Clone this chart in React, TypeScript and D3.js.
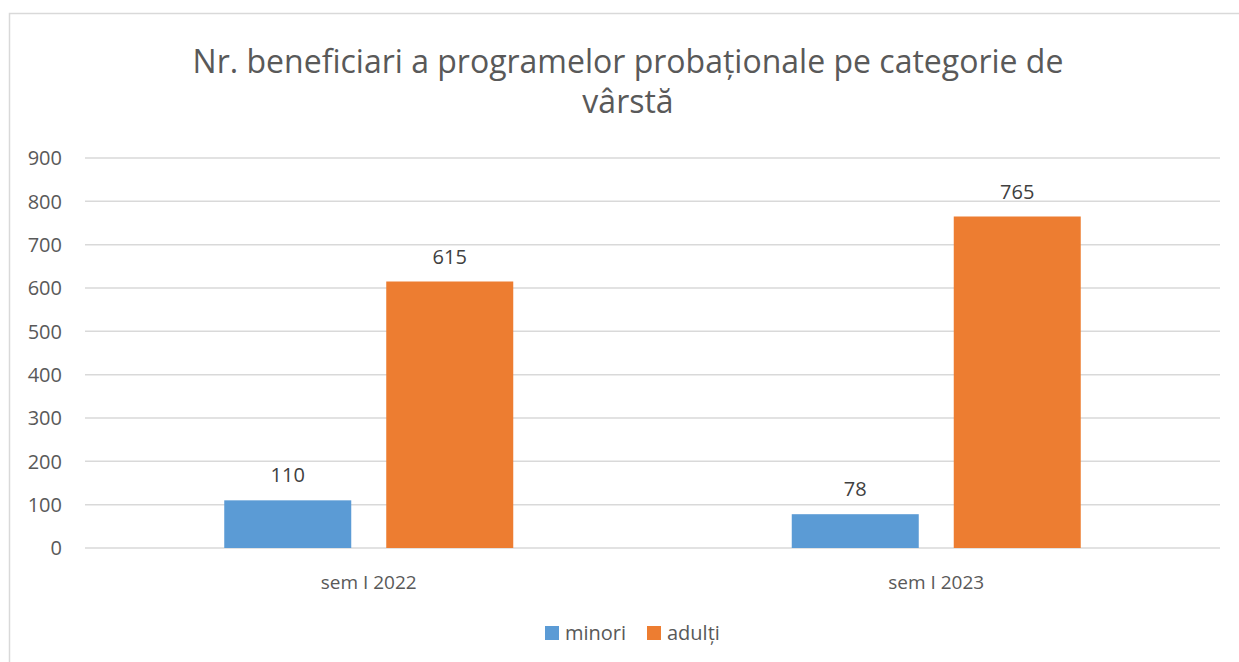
import { useEffect, useRef } from 'react'
import * as d3 from 'd3'

const categories = ['sem I 2022', 'sem I 2023']
const seriesNames = ['minori', 'adulți']
const minori = [110, 78]
const adulti = [615, 765]
const yTicks = [0, 100, 200, 300, 400, 500, 600, 700, 800, 900]
const titleLines = ['Nr. beneficiari a programelor probaționale pe categorie de', 'vârstă']

const colors = ['#5B9BD5', '#ED7D31']
const FONT = '"Open Sans", "Liberation Sans", sans-serif'

export default function App() {
  const ref = useRef<SVGSVGElement | null>(null)

  useEffect(() => {
    if (!ref.current) return
    document.body.style.margin = '0'
    const svg = d3.select(ref.current)
    svg.selectAll('*').remove()

    const width = 1239
    const height = 662
    const margin = { top: 158, right: 19, bottom: 114, left: 85 }

    svg.append('rect').attr('width', width).attr('height', height).attr('fill', '#fff')
    // chart frame
    svg.append('rect')
      .attr('x', 9.5).attr('y', 13.5)
      .attr('width', width + 20).attr('height', height + 20)
      .attr('fill', 'none').attr('stroke', '#D9D9D9').attr('stroke-width', 1.5)

    // title
    svg.append('text')
      .attr('x', 628).attr('y', 73)
      .attr('text-anchor', 'middle')
      .style('font-family', FONT).style('font-size', '32px').attr('fill', '#595959')
      .selectAll('tspan').data(titleLines).join('tspan')
      .attr('x', 628).attr('dy', (_, i) => (i === 0 ? 0 : 40))
      .text(d => d)

    const x0 = d3.scaleBand().domain(categories).range([margin.left, width - margin.right])
    const y = d3.scaleLinear().domain([0, 900]).range([height - margin.bottom, margin.top])

    const barW = 127
    const gap = 35
    const x1 = d3.scaleBand().domain(seriesNames)
      .range([-(barW + gap / 2), barW + gap / 2]).paddingInner(gap / (barW + gap))

    // grid
    svg.append('g').selectAll('line').data(yTicks).join('line')
      .attr('x1', margin.left).attr('x2', width - margin.right)
      .attr('y1', d => y(d)).attr('y2', d => y(d))
      .attr('stroke', '#D9D9D9').attr('stroke-width', 1.5)

    // y tick labels
    svg.append('g').selectAll('text').data(yTicks).join('text')
      .attr('x', 62).attr('y', d => y(d)).attr('dy', '0.36em')
      .attr('text-anchor', 'end')
      .style('font-family', FONT).style('font-size', '20px').attr('fill', '#595959')
      .text(d => d)

    const data = [minori, adulti]
    seriesNames.forEach((name, si) => {
      const g = svg.append('g')
      g.selectAll('rect').data(data[si]).join('rect')
        .attr('x', (_, i) => x0(categories[i])! + x0.bandwidth() / 2 + x1(name)!)
        .attr('width', x1.bandwidth())
        .attr('y', d => y(d))
        .attr('height', d => y(0) - y(d))
        .attr('fill', colors[si])
      g.selectAll('text').data(data[si]).join('text')
        .attr('x', (_, i) => x0(categories[i])! + x0.bandwidth() / 2 + x1(name)! + x1.bandwidth() / 2)
        .attr('y', d => y(d) - 18)
        .attr('text-anchor', 'middle')
        .style('font-family', FONT).style('font-size', '20px').attr('fill', '#404040')
        .text(d => d)
    })

    // x labels
    svg.append('g').selectAll('text').data(categories).join('text')
      .attr('x', d => x0(d)! + x0.bandwidth() / 2).attr('y', 589)
      .attr('text-anchor', 'middle')
      .style('font-family', FONT).style('font-size', '19px').attr('fill', '#595959')
      .text(d => d)

    // legend
    const legendX = [545, 647]
    const legend = svg.append('g')
    seriesNames.forEach((name, i) => {
      legend.append('rect').attr('x', legendX[i]).attr('y', 626)
        .attr('width', 14).attr('height', 14).attr('fill', colors[i])
      legend.append('text').attr('x', legendX[i] + 20).attr('y', 640)
        .style('font-family', FONT).style('font-size', '20px').attr('fill', '#595959')
        .text(name)
    })
  }, [])

  return <svg ref={ref} width={1239} height={662} style={{ display: 'block' }}></svg>
}
